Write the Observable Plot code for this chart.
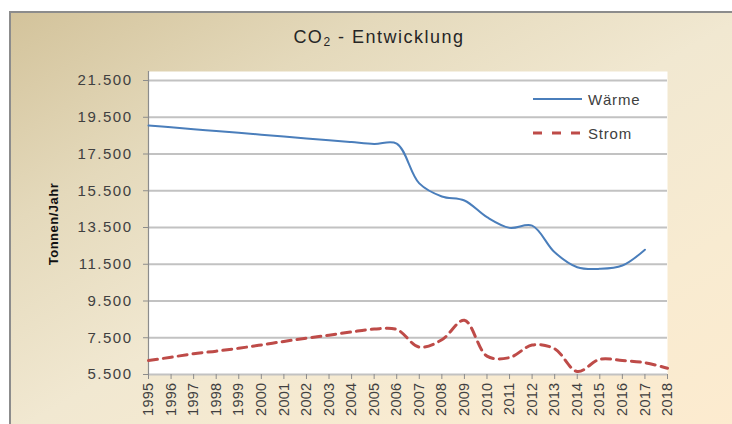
<!DOCTYPE html>
<html><head><meta charset="utf-8">
<script src="https://cdn.jsdelivr.net/npm/d3@7"></script>
<script src="https://cdn.jsdelivr.net/npm/@observablehq/plot@0.6"></script>
<style>
body{margin:0;background:#fff;}
#wrap{position:relative;width:732px;height:424px;overflow:hidden;font-family:"Liberation Sans",Arial,sans-serif;}
#bg{position:absolute;left:9px;top:11px;width:740px;height:420px;border-left:2px solid #8c8c8c;border-top:2px solid #8c8c8c;
 background:linear-gradient(to bottom right,#d3c39b 0%,#e4d9bb 25%,#f1e8d1 50%,#f8ebd1 75%,#fdebcf 100%);}
#chart{position:absolute;left:0;top:0;}
#title{position:absolute;left:0;top:26px;width:758px;text-align:center;font-size:18px;letter-spacing:1.5px;color:#262626;line-height:22px;}
#title sub{font-size:12px;vertical-align:-3px;line-height:0;}
#ylab{position:absolute;left:-6px;top:216px;width:120px;height:16px;line-height:16px;text-align:center;font-size:13px;font-weight:bold;color:#111;transform:rotate(-90deg);letter-spacing:0.5px;}
.legline{position:absolute;left:533px;}
.legtxt{position:absolute;left:588px;font-size:15px;color:#404040;letter-spacing:0.8px;line-height:18px;}
#chart [aria-label="y-axis tick label"] text{letter-spacing:1.5px;}
#chart [aria-label="x-axis tick label"] text{letter-spacing:0.3px;}
</style></head>
<body>
<div id="wrap">
<div id="bg"></div>
<div id="chart"></div>
<div id="title">CO<sub>2</sub> - Entwicklung</div>
<div id="ylab">Tonnen/Jahr</div>
<svg class="legline" style="top:96px" width="52" height="6"><line x1="0" y1="3" x2="49" y2="3" stroke="#4a7ebb" stroke-width="2"/></svg>
<div class="legtxt" style="top:91px">Wärme</div>
<svg class="legline" style="top:130px" width="52" height="6"><line x1="0" y1="3" x2="50" y2="3" stroke="#be4b48" stroke-width="3" stroke-dasharray="9,10"/></svg>
<div class="legtxt" style="top:125px">Strom</div>
</div>
<script>
const years = [1995,1996,1997,1998,1999,2000,2001,2002,2003,2004,2005,2006,2007,2008,2009,2010,2011,2012,2013,2014,2015,2016,2017,2018];
const waerme = [19050,18950,18850,18750,18650,18550,18450,18350,18250,18150,18050,18070,15900,15190,14970,14060,13480,13600,12150,11340,11250,11430,12290];
const strom = [6260,6440,6630,6770,6930,7110,7300,7480,7640,7820,7970,7950,6990,7390,8450,6500,6420,7100,6900,5660,6330,6260,6140,5840];
const yTicks = [5500,7500,9500,11500,13500,15500,17500,19500,21500];

const fmt = d3.formatLocale({decimal:",",thousands:".",grouping:[3],currency:["","€"]}).format(",");
const dataW = waerme.map((v,i)=>({year:years[i], value:v}));
const dataS = strom.map((v,i)=>({year:years[i], value:v}));

const chart = Plot.plot({
  width:732, height:424,
  marginLeft:148, marginRight:65, marginTop:71, marginBottom:50,
  style:{background:"transparent", fontFamily:"Liberation Sans, Arial, sans-serif", color:"#404040", overflow:"visible"},
  x:{type:"linear", domain:[years[0], years[years.length-1]]},
  y:{domain:[yTicks[0], yTicks[yTicks.length-1]], insetTop:9},
  marks:[
    Plot.frame({fill:"white", stroke:null}),
    Plot.gridY(yTicks,{stroke:"#c2c2c2", strokeOpacity:1, strokeWidth:1.8}),
    Plot.ruleX([years[0]],{stroke:"#8c8c8c", strokeWidth:1.2}),
    Plot.axisY(yTicks,{tickFormat:fmt, tickSize:5, tickPadding:11, fontSize:15, stroke:"#8c8c8c", label:null}),
    Plot.axisX(years,{tickFormat:d=>String(d), tickRotate:-90, tickSize:5, tickPadding:3, fontSize:14.5, stroke:"#8c8c8c", label:null}),
    Plot.line(dataW,{x:"year",y:"value",stroke:"#4a7ebb",strokeWidth:2,curve:"catmull-rom"}),
    Plot.line(dataS,{x:"year",y:"value",stroke:"#be4b48",strokeWidth:3,strokeDasharray:"9,6",curve:"catmull-rom"})
  ]
});
document.getElementById("chart").appendChild(chart);
</script>
</body></html>
